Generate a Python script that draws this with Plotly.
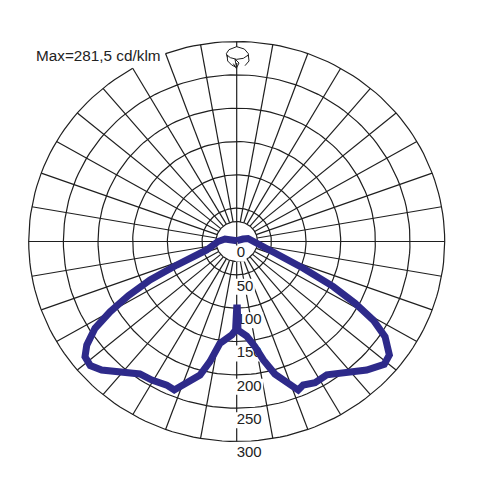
import math
import numpy as np
import plotly.graph_objects as go

# Luminous intensity curve (angle from nadir in degrees, cd/klm)
curve_angle = [160.2, -101.7, -102.5, -90.0, -73.6, -67.8, -65.2, -62.5, -60.0, -57.5, -54.3, -51.7, -48.6, -45.3,
               -39.8, -35.1, -30.5, -25.1, -22.0, -19.2, -14.8, -12.1, -9.0, -2.9, -0.7, 0.0,
               0.5, 0.8, 5.8, 9.5, 12.2, 15.5, 19.2, 21.7, 24.0, 28.1, 33.0, 39.1, 44.2, 49.1, 52.3, 56.3, 59.1,
               61.5, 64.1, 67.3, 73.8, 90.0, 105.4, 112.4, 160.2]
curve_value = [1.3, 5.9, 17.3, 27.0, 45.1, 93.4, 137.7, 176.2, 210.9, 242.3, 266.3, 278.8, 281.5, 274.0,
               255.4, 242.8, 241.2, 237.8, 240.2, 226.4, 207.1, 184.4, 154.6, 140.4, 132.8, 99.8,
               99.8, 132.8, 142.5, 160.0, 181.8, 206.3, 226.3, 239.8, 235.7, 240.0, 238.6, 251.6, 268.9, 281.5,
               278.3, 257.2, 229.5, 194.2, 154.9, 104.1, 55.0, 26.4, 16.9, 9.8, 1.3]
ring_values = [30, 50, 100, 150, 200, 250, 300]
tick_values = [0, 50, 100, 150, 200, 250, 300]
spoke_angles = list(range(0, 360, 10))
title_text = "Max=281,5 cd/klm"

W, H = 480, 484
CX, CY = 236.7, 241.5
SX, SY = 300 / 208, 300 / 200   # data units per pixel
INK = "#1f1f1f"
BLUE = "#2e2a8a"


def polar(angle_deg, r):
    a = np.radians(angle_deg)
    return np.asarray(r) * np.sin(a), -np.asarray(r) * np.cos(a)


gx, gy = [], []
for r in ring_values:
    if r == 300:
        # outer ring is open between 20 and 30 degrees upper left, beside the caption
        t = np.arange(210, 560 + 1, 2.0)
    else:
        t = np.arange(0, 361, 2.0)
    x, y = polar(t, r * np.ones_like(t))
    gx += list(x) + [None]
    gy += list(y) + [None]
for a in spoke_angles:
    r0 = 0 if a % 90 == 0 else 30
    x, y = polar(np.array([a, a], float), np.array([r0, 300.0]))
    gx += list(x) + [None]
    gy += list(y) + [None]

LABEL_DY = 18
bx, by = [], []
for v in tick_values:
    w = len(str(v)) * 8.34 * SX + 2.5 * SX
    yc = -v - LABEL_DY
    h = 8 * SY
    x0 = -1 * SX
    bx += [x0, x0 + w, x0 + w, x0, x0, None]
    by += [yc - h, yc - h, yc + h, yc + h, yc - h, None]

fig = go.Figure()
fig.add_trace(go.Scatter(x=gx, y=gy, mode="lines", line=dict(color=INK, width=1.2), hoverinfo="skip", showlegend=False))
fig.add_trace(go.Scatter(x=bx, y=by, mode="lines", fill="toself", fillcolor="white", line=dict(width=0, color="white"),
                         hoverinfo="skip", showlegend=False))
fig.add_trace(go.Scatter(x=[0] * len(tick_values), y=[-v - LABEL_DY for v in tick_values],
                         text=[str(v) for v in tick_values], mode="text", textposition="middle right",
                         textfont=dict(family="Liberation Sans", size=15, color="#222222"),
                         hoverinfo="skip", showlegend=False))
cx, cy = polar(np.array(curve_angle), np.array(curve_value))
fig.add_trace(go.Scatter(x=cx, y=cy, mode="lines", line=dict(color=BLUE, width=7), showlegend=False))


def px(points):
    return " ".join(("M" if i == 0 else "L") + f"{p[0] / W:.5f},{1 - p[1] / H:.5f}" for i, p in enumerate(points))


def zoomed(pts):
    return [(215 + a / 3, 35 + b / 3) for a, b in pts]


icon_fill = [(237 + 11 * math.cos(t), 55 + 8 * math.sin(t)) for t in np.linspace(0, 2 * math.pi, 40)]
icon_top = zoomed([(38, 68), (34, 56), (42, 44), (65, 35), (88, 42), (100, 56), (100, 66)])
icon_low = zoomed([(36, 60), (46, 68), (65, 73), (85, 70), (100, 60), (102, 78), (90, 92)])
icon_left = zoomed([(36, 60), (38, 78), (50, 90), (62, 96)])
icon_arrow = zoomed([(55, 86), (64, 100), (72, 84), (60, 72), (65, 100)])
shape = lambda p, **k: dict(type="path", xref="paper", yref="paper", path=px(p), line=dict(color=INK, width=1), **k)
fig.update_layout(
    width=W, height=H, margin=dict(l=0, r=0, t=0, b=0), paper_bgcolor="white", plot_bgcolor="white",
    showlegend=False,
    xaxis=dict(range=[-CX * SX, (W - CX) * SX], visible=False, fixedrange=True),
    yaxis=dict(range=[-(H - CY) * SY, CY * SY], visible=False, fixedrange=True),
    shapes=[dict(type="path", xref="paper", yref="paper", path=px(icon_fill) + " Z", fillcolor="white",
                 line=dict(width=0)),
            shape(icon_top), shape(icon_low), shape(icon_left), shape(icon_arrow)],
    annotations=[dict(xref="paper", yref="paper", x=33.5 / W, y=1 - 55.5 / H, text=title_text, showarrow=False,
                      xanchor="left", yanchor="middle", font=dict(family="Liberation Sans", size=15.3, color="#222222"))],
)
fig.write_html("out.html", config={"displayModeBar": False},
               post_script="document.body.style.margin='0';document.body.style.padding='0';")
